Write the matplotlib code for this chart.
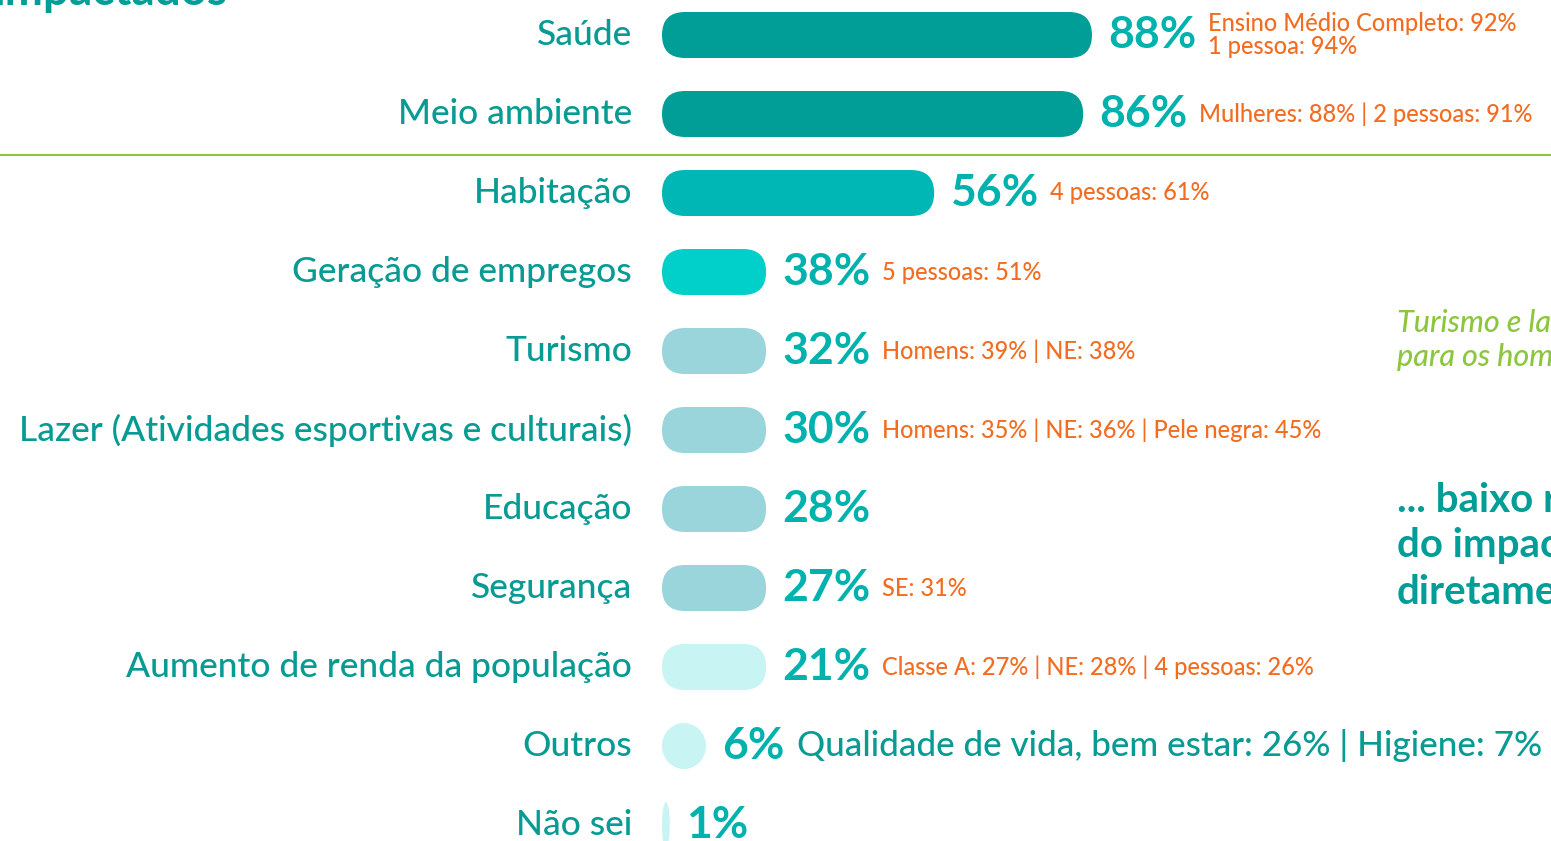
import matplotlib.pyplot as plt
from matplotlib.patches import FancyBboxPatch, Ellipse

# dados
categorias = ['Saúde', 'Meio ambiente', 'Habitação', 'Geração de empregos', 'Turismo',
              'Lazer (Atividades esportivas e culturais)', 'Educação', 'Segurança',
              'Aumento de renda da população', 'Outros', 'Não sei']
valores = [88, 86, 56, 38, 32, 30, 28, 27, 21, 6, 1]
# comprimento desenhado de cada barra (em %), como aparece no slide
comprimentos = [88, 86.2, 55.7, 21.3, 21.3, 21.3, 21.3, 21.3, 21.3, 9.0, 1.6]
destaques = ['Ensino Médio Completo: 92%\n1 pessoa: 94%',
             'Mulheres: 88% | 2 pessoas: 91%',
             '4 pessoas: 61%',
             '5 pessoas: 51%',
             'Homens: 39% | NE: 38%',
             'Homens: 35% | NE: 36% | Pele negra: 45%',
             '',
             'SE: 31%',
             'Classe A: 27% | NE: 28% | 4 pessoas: 26%',
             '',
             '']
outros_texto = 'Qualidade de vida, bem estar: 26% | Higiene: 7%'
cores = ['#009e96', '#009e96', '#00b7b5', '#00d0c9', '#99d5db', '#99d5db',
         '#99d5db', '#99d5db', '#c9f4f4', '#c9f4f4', '#c9f4f4']

TEAL = '#079b93'
TEAL_PCT = '#00b2ad'
LARANJA = '#f26d21'
VERDE = '#8cc63f'
FONTE = 'Lato'

W, H = 1551, 841
X0 = 662.0      # pixel do 0%
ESC = 4.886     # pixels por ponto percentual
Y0 = 35.0       # centro da primeira linha
PASSO = 79.0    # distância entre linhas

fig = plt.figure(figsize=(W / 100, H / 100), dpi=100)
ax = fig.add_axes([0, 0, 1, 1])
ax.set_xlim(-X0 / ESC, (W - X0) / ESC)
ax.set_ylim((H - Y0) / PASSO, -Y0 / PASSO)
ax.axis('off')

altura = 46 / PASSO
raio = 23 / ESC
aspecto = ESC / PASSO

for i, (cat, v, L, cor, extra) in enumerate(zip(categorias, valores, comprimentos, cores, destaques)):
    if L * ESC >= 46:
        barra = FancyBboxPatch((0, i - altura / 2), L, altura,
                               boxstyle=f'round,pad=0,rounding_size={raio}',
                               mutation_aspect=aspecto, fc=cor, ec='none')
    else:
        barra = Ellipse((L / 2, i), L, altura, fc=cor, ec='none')
    ax.add_patch(barra)

    ax.text(-30 / ESC, i, cat, ha='right', va='center', fontsize=25.5,
            color=TEAL, family=FONTE, fontweight='medium')
    pct = ax.text(L + 16 / ESC, i, f'{v}%', ha='left', va='center', fontsize=32,
                  color=TEAL_PCT, family=FONTE, fontweight='bold')
    if extra:
        ax.annotate(extra, xy=(1, 0.5), xycoords=pct, xytext=(8.5, 0),
                    textcoords='offset points', ha='left', va='center',
                    fontsize=17, color=LARANJA, family=FONTE, fontweight='medium',
                    linespacing=0.95)
    if cat == 'Outros':
        ax.annotate(outros_texto, xy=(1, 0.5), xycoords=pct, xytext=(9, 0),
                    textcoords='offset points', ha='left', va='center',
                    fontsize=25.2, color=TEAL, family=FONTE, fontweight='medium')

# linha separadora
ax.axhline((155 - Y0) / PASSO, color=VERDE, lw=1.5)

# textos cortados do slide
fig.text(228 / W, 1 - 5 / H, 'impactados', ha='right', va='baseline',
         fontsize=33, color='#009e96', family=FONTE, fontweight='bold')
fig.text(1397 / W, 1 - 340 / H, 'Turismo e lazer mais citados\npara os homens',
         ha='left', va='center', fontsize=22, color=VERDE, family=FONTE,
         style='italic', fontweight='medium', linespacing=1.3)
fig.text(1397 / W, 1 - 546 / H, '... baixo reconhecimento\ndo impacto\ndiretamente',
         ha='left', va='center', fontsize=29, color='#009e96', family=FONTE,
         fontweight='bold', linespacing=1.3)

fig.savefig('out.png', dpi=100)
